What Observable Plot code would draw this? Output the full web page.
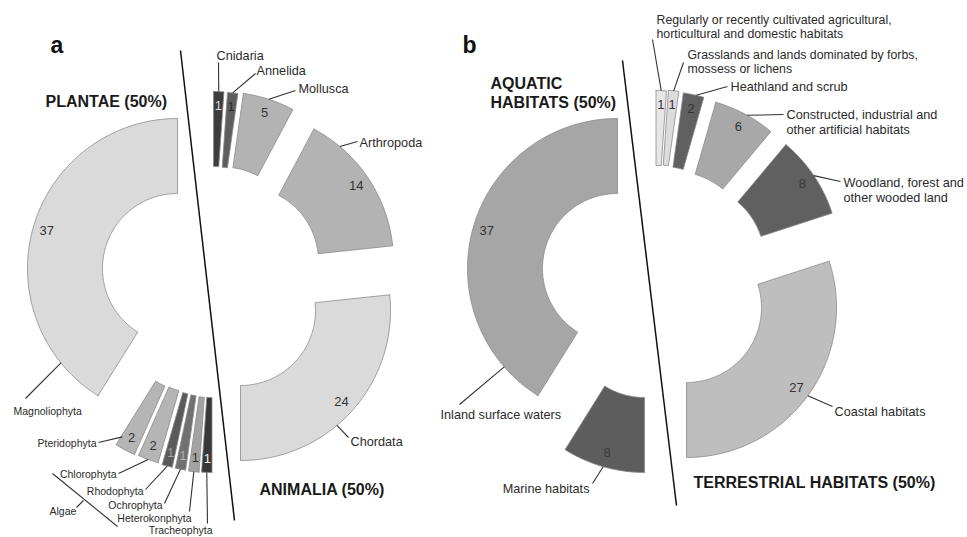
<!DOCTYPE html>
<html><head><meta charset="utf-8">
<script src="https://cdn.jsdelivr.net/npm/d3@7"></script>
<script src="https://cdn.jsdelivr.net/npm/@observablehq/plot@0.6"></script>
<style>html,body{margin:0;padding:0;background:#fff}svg{display:block}</style>
</head><body><div id="chart"></div>
<script>
// ---------- DATA ----------
// panel a (clockwise from 12 o'clock): Animalia then Plantae
const animalia = ["Cnidaria", "Annelida", "Mollusca", "Arthropoda", "Chordata"];
const animaliaCounts = [1, 1, 5, 14, 24];
const plantae = ["Tracheophyta", "Heterokonphyta", "Ochrophyta", "Rhodophyta", "Chlorophyta", "Pteridophyta", "Magnoliophyta"];
const plantaeCounts = [1, 1, 1, 1, 2, 2, 37];
// panel b (clockwise from 12 o'clock): Terrestrial then Aquatic
const terrestrial = [
  "Regularly or recently cultivated agricultural,\nhorticultural and domestic habitats",
  "Grasslands and lands dominated by forbs,\nmossess or lichens",
  "Heathland and scrub",
  "Constructed, industrial and\nother artificial habitats",
  "Woodland, forest and\nother wooded land",
  "Coastal habitats"
];
const terrestrialCounts = [1, 1, 2, 6, 8, 27];
const aquatic = ["Marine habitats", "Inland surface waters"];
const aquaticCounts = [8, 37];
const panelLetters = ["a", "b"];
const groupTitles = ["PLANTAE (50%)", "ANIMALIA (50%)", "AQUATIC\nHABITATS (50%)", "TERRESTRIAL HABITATS (50%)"];
const bracketLabel = "Algae";

// ---------- LAYOUT / STYLE ----------
const W = 967, H = 537;
const R_IN = 75, R_OUT = 150, R_NUM = 136;
const FONT = "Liberation Sans, Arial, Helvetica, sans-serif";
const layoutA = [
  {fill: "#3d3d3d", off: [1, -39], num: "#d8d8d8", lead: {to: [218, 62]}, lab: {x: 216, y: 55, anchor: "start", size: 12.7}},
  {fill: "#5e5e5e", off: [4.5, -38.4], num: "#2a2a2a", lead: {to: [255, 73]}, lab: {x: 256, y: 70, anchor: "start", size: 12.7}},
  {fill: "#b3b3b3", off: [10, -38.5], num: "#333", lead: {to: [295, 90]}, lab: {x: 298, y: 88, anchor: "start", size: 12.7}},
  {fill: "#b3b3b3", off: [31, -19], num: "#333", lead: {a: 40, to: [357, 141]}, lab: {x: 359, y: 142, anchor: "start", size: 12.7}},
  {fill: "#dadada", off: [28, 30], num: "#333", lead: {a: 140, to: [348, 437]}, lab: {x: 350, y: 441, anchor: "start", size: 12.7}},
  {fill: "#383838", off: [-0.5, 42], num: "#f0f0f0", lead: {to: [207, 523]}, lab: {x: 212, y: 530, anchor: "end", size: 10.5}},
  {fill: "#a3a3a3", off: [-3, 42], num: "#333", lead: {to: [189, 511]}, lab: {x: 191, y: 518, anchor: "end", size: 10.5}},
  {fill: "#717171", off: [-6, 41], num: "#b0b0b0", lead: {to: [164, 503]}, lab: {x: 162, y: 505, anchor: "end", size: 10.5}},
  {fill: "#5a5a5a", off: [-9, 40], num: "#a0a0a0", lead: {to: [145, 489]}, lab: {x: 143, y: 491, anchor: "end", size: 10.5}},
  {fill: "#b5b5b5", off: [-13, 38], num: "#333", lead: {to: [118, 473]}, lab: {x: 116, y: 474, anchor: "end", size: 10.5}},
  {fill: "#b5b5b5", off: [-17, 37], num: "#333", lead: {a: 211.5, r: 140, to: [98, 442]}, lab: {x: 96, y: 443, anchor: "end", size: 10.5}},
  {fill: "#dadada", off: [-35, -12], num: "#333", lead: {a: 231, to: [25, 398]}, lab: {x: 13, y: 411, anchor: "start", size: 10.5}}
];
const layoutB = [
  {fill: "#e6e6e6", off: [0.5, -40], num: "#333", lead: {to: [652, 39]}, lab: {x: 656, y: 26, anchor: "start", size: 12.3}},
  {fill: "#dcdcdc", off: [2.5, -40.5], num: "#333", lead: {to: [683, 62]}, lab: {x: 687, y: 61, anchor: "start", size: 12.3}},
  {fill: "#606060", off: [7, -39], num: "#333", lead: {a: 13, to: [727, 86]}, lab: {x: 730, y: 86, anchor: "start", size: 12.7}},
  {fill: "#a8a8a8", off: [19, -34], num: "#333", lead: {a: 29, to: [783, 114]}, lab: {x: 786, y: 121, anchor: "start", size: 12.7}},
  {fill: "#606060", off: [34, -21], num: "#3a3a3a", lead: {to: [840, 181]}, lab: {x: 843, y: 189, anchor: "start", size: 12.7}},
  {fill: "#bebebe", off: [31, 27], num: "#333", lead: {to: [832, 406]}, lab: {x: 834, y: 411, anchor: "start", size: 12.7}},
  {fill: "#5d5d5d", off: [-11, 42], num: "#3a3a3a", lead: {to: [592, 483]}, lab: {x: 589, y: 488, anchor: "end", size: 12.7}},
  {fill: "#a6a6a6", off: [-38, -12], num: "#333", lead: {a: 229, to: [459, 404]}, lab: {x: 440, y: 414, anchor: "start", size: 12.7}}
];
const panels = [
  {pivot: [212, 280], names: [...animalia, ...plantae], counts: [...animaliaCounts, ...plantaeCounts], layout: layoutA},
  {pivot: [655, 280], names: [...terrestrial, ...aquatic], counts: [...terrestrialCounts, ...aquaticCounts], layout: layoutB}
];
const letterPos = [[50, 45], [462, 45]];
const titlePos = [
  {x: 45, y: 100}, {x: 259, y: 488}, {x: 490, y: 92}, {x: 693, y: 481}
];
const dividers = [
  {x1: 180, y1: 50, x2: 234, y2: 520},
  {x1: 622, y1: 60, x2: 676, y2: 505}
];
const bracket = {x1: 52, y1: 473, x2: 117, y2: 526, tick: [76, 507, 83, 500], label: [49, 511]};

// ---------- GEOMETRY ----------
const rad = (deg) => deg * Math.PI / 180;
const pt = (cx, cy, r, deg) => [cx + r * Math.sin(rad(deg)), cy - r * Math.cos(rad(deg))];

const slices = [];
panels.forEach((p, pi) => {
  const total = d3.sum(p.counts);
  let cum = 0;
  p.counts.forEach((v, i) => {
    const a0 = cum / total * 360; cum += v; const a1 = cum / total * 360;
    const L = p.layout[i];
    const cx = p.pivot[0] + L.off[0], cy = p.pivot[1] + L.off[1];
    slices.push({id: pi + "-" + i, name: p.names[i], value: v, a0, a1, cx, cy, L});
  });
});

const polyPts = [];
for (const s of slices) {
  const n = Math.max(2, Math.ceil(s.a1 - s.a0));
  const ring = [];
  for (let k = 0; k <= n; k++) ring.push(pt(s.cx, s.cy, R_OUT, s.a0 + (s.a1 - s.a0) * k / n));
  for (let k = n; k >= 0; k--) ring.push(pt(s.cx, s.cy, R_IN, s.a0 + (s.a1 - s.a0) * k / n));
  ring.push(ring[0]);
  for (const [x, y] of ring) polyPts.push({id: s.id, x, y, fill: s.L.fill});
}

const numPos = (s) => pt(s.cx, s.cy, R_NUM, (s.a0 + s.a1) / 2);
const leadStart = (s) => pt(s.cx, s.cy, s.L.lead.r ?? R_OUT, s.L.lead.a ?? (s.a0 + s.a1) / 2);

const textMarks = (anchor) => Plot.text(slices.filter(s => s.L.lab.anchor === anchor), {
  x: s => s.L.lab.x, y: s => s.L.lab.y, text: "name",
  textAnchor: anchor, fontSize: s => s.L.lab.size, fill: "#2b2b2b",
  fontFamily: FONT, lineHeight: 1.18
});

const chart = Plot.plot({
  width: W, height: H,
  margin: 0,
  x: {domain: [0, W], range: [0, W], axis: null},
  y: {domain: [0, H], range: [0, H], axis: null},
  color: {type: "identity"},
  style: {fontFamily: FONT, background: "#fff"},
  marks: [
    Plot.link(dividers, {x1: "x1", y1: "y1", x2: "x2", y2: "y2", stroke: "#111", strokeWidth: 1.5}),
    Plot.line(polyPts, {x: "x", y: "y", z: "id", fill: "fill", stroke: "#8a8a8a", strokeWidth: 0.8, curve: "linear"}),
    Plot.link(slices, {
      x1: s => leadStart(s)[0], y1: s => leadStart(s)[1],
      x2: s => s.L.lead.to[0], y2: s => s.L.lead.to[1],
      stroke: "#333", strokeWidth: 1.1
    }),
    Plot.text(slices, {
      x: s => numPos(s)[0], y: s => numPos(s)[1], text: s => String(s.value),
      fill: s => s.L.num, fontSize: 13, fontFamily: FONT
    }),
    textMarks("start"),
    textMarks("end"),
    Plot.link([bracket], {x1: "x1", y1: "y1", x2: "x2", y2: "y2", stroke: "#333", strokeWidth: 1.1}),
    Plot.link([bracket], {x1: d => d.tick[0], y1: d => d.tick[1], x2: d => d.tick[2], y2: d => d.tick[3], stroke: "#333", strokeWidth: 1.1}),
    Plot.text([bracketLabel], {x: () => bracket.label[0], y: () => bracket.label[1], text: d => d, textAnchor: "start", fontSize: 10.5, fill: "#2b2b2b", fontFamily: FONT}),
    Plot.text(groupTitles, {
      x: (d, i) => titlePos[i].x, y: (d, i) => titlePos[i].y, text: d => d,
      textAnchor: "start", fontSize: 16, fontWeight: "bold", fill: "#1a1a1a", lineHeight: 1.2, fontFamily: FONT
    }),
    Plot.text(panelLetters, {
      x: (d, i) => letterPos[i][0], y: (d, i) => letterPos[i][1], text: d => d,
      textAnchor: "start", fontSize: 23, fontWeight: "bold", fill: "#111", fontFamily: FONT
    })
  ]
});
document.getElementById("chart").append(chart);
</script>
</body></html>
